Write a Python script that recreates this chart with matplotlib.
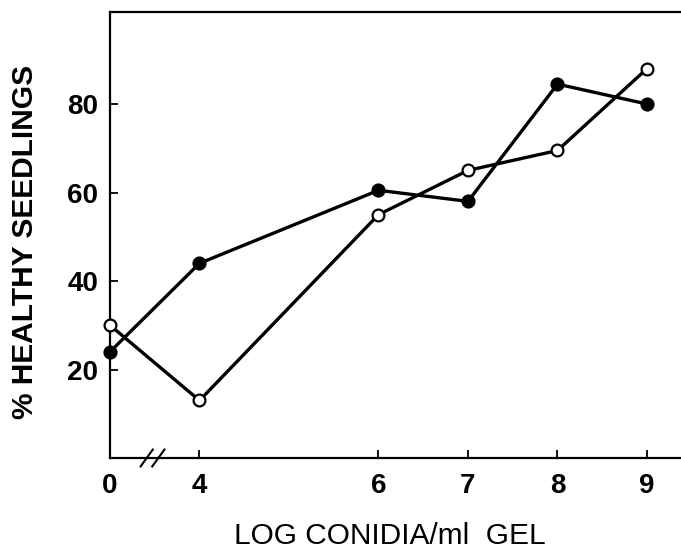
import matplotlib
matplotlib.use("Agg")
import matplotlib.pyplot as plt

# Data
x_labels = ["0", "4", "6", "7", "8", "9"]
x_values = [0, 4, 6, 7, 8, 9]
filled_pct = [24, 44, 60.5, 58, 84.5, 80]
open_pct = [30, 13, 55, 65, 69.5, 88]

# broken axis: log 0 drawn one unit left of 4
def pos(v):
    return 3.0 if v == 0 else float(v)

xp = [pos(v) for v in x_values]

plt.rcParams['font.family'] = ['Liberation Sans', 'DejaVu Sans']

fig = plt.figure(figsize=(6.81, 5.51), dpi=100)
ax = fig.add_axes([110/681, 1 - 458/551, 1 - 110/681, (458 - 12)/551])

ax.plot(xp, filled_pct, color='black', lw=2.4, marker='o', ms=9,
        mfc='black', mec='black', mew=1.2, zorder=3, clip_on=False)
ax.plot(xp, open_pct, color='black', lw=2.4, marker='o', ms=8.5,
        mfc='white', mec='black', mew=1.6, zorder=4, clip_on=False)

ax.set_xlim(3.0, 9.38)
ax.set_ylim(0, 100.8)

ax.set_xticks(xp)
ax.set_xticklabels(x_labels)
ax.set_yticks([20, 40, 60, 80])
ax.set_yticklabels(["20", "40", "60", "80"])

ax.tick_params(direction='in', length=6, width=1.3, labelsize=20)
ax.tick_params(axis='y', pad=8.5)
ax.tick_params(axis='x', pad=11)
for lbl in ax.get_xticklabels() + ax.get_yticklabels():
    lbl.set_fontweight('bold')
# remove tick at 0 on x (axis corner)
ax.xaxis.get_major_ticks()[0].tick1line.set_visible(False)

ax.spines['right'].set_visible(False)
for s in ['left', 'bottom', 'top']:
    ax.spines[s].set_linewidth(1.6)

# axis break marks
for cx in [3.41, 3.54]:
    ax.plot([cx - 0.068, cx + 0.068], [-1.9, 1.9], color='black', lw=1.5,
            clip_on=False, zorder=5)

fig.text(25/681, 1 - 242/551, "% HEALTHY SEEDLINGS", rotation=90,
         ha='center', va='center', fontsize=21.5, fontweight='bold')
fig.text(390/681, 1 - 544/551, "LOG CONIDIA/ml  GEL",
         ha='center', va='baseline', fontsize=21.5)

fig.savefig("out.png", dpi=100)
